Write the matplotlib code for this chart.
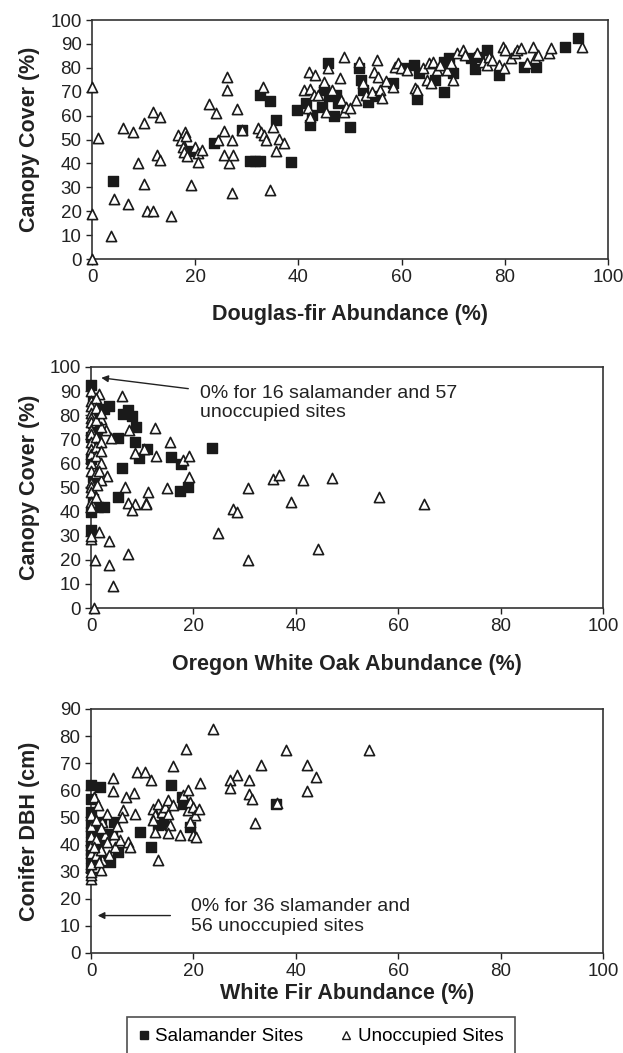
import numpy as np
import matplotlib.pyplot as plt
from matplotlib.lines import Line2D

plt.rcParams['font.family'] = ['Liberation Sans', 'DejaVu Sans']

# ---- panel 1: Douglas-fir abundance vs canopy cover ----
df_sal_x = [4.1, 18.9, 23.7, 29.1, 30.7, 31.6, 32.6, 32.6, 34.5, 35.6, 38.6, 39.8,
            41.5, 42.2, 42.6, 44.6, 45.0, 45.7, 45.9, 46.8, 47.2, 47.6, 49.9, 51.7,
            52.2, 52.6, 53.4, 55.2, 58.4, 60.7, 62.3, 62.9, 63.4, 66.5, 68.3, 68.3,
            69.1, 70.0, 73.4, 74.2, 75.0, 76.5, 78.8, 83.8, 86.0, 91.7, 94.2]
df_sal_y = [32.5, 45.0, 48.5, 54.0, 41.1, 41.1, 41.2, 68.7, 66.2, 58.0, 40.8, 62.4,
            65.2, 56.1, 60.3, 63.8, 70.8, 81.9, 68.0, 59.9, 68.7, 65.2, 55.4, 79.8,
            74.9, 70.8, 65.9, 68.0, 73.5, 79.8, 81.2, 66.9, 77.7, 74.9, 70.0, 82.6,
            84.0, 77.7, 84.0, 79.4, 84.4, 87.5, 77.0, 80.5, 80.5, 88.9, 92.3]
df_uno_x = [0.0, 0.0, 0.0, 1.2, 3.7, 4.2, 6.0, 7.0, 8.0, 9.0, 10.0, 10.0, 10.6, 11.9,
            11.9, 12.6, 13.1, 13.1, 15.4, 16.6, 17.2, 17.6, 17.8, 18.1, 18.3, 18.5,
            19.1, 19.9, 20.6, 20.6, 21.4, 22.6, 24.1, 24.4, 25.5, 25.5, 26.2, 26.2,
            26.6, 27.2, 27.2, 27.4, 28.0, 29.1, 32.2, 32.8, 33.2, 33.4, 33.7, 34.4,
            35.1, 35.6, 36.2, 37.2,
            42.1, 43.2, 41.1, 42.2, 43.0, 41.8, 42.2, 43.8, 45.0, 45.3, 45.7, 46.5,
            48.0, 48.2, 48.8, 48.8, 49.2, 49.9, 51.1, 51.7, 52.5, 53.0, 54.2, 54.6,
            55.2, 55.4, 55.8, 56.2, 56.9, 58.8, 58.4, 59.2, 59.9, 61.1, 62.6, 63.0,
            64.2, 64.9, 65.3, 65.7, 66.1, 66.9, 67.5, 68.8, 69.6, 70.0, 70.7, 71.9,
            72.3, 74.6, 75.7, 76.5, 76.9, 77.6, 78.8, 79.6, 80.0, 79.8, 81.1, 81.9,
            82.3, 83.1, 84.2, 85.4, 85.8, 86.5, 88.5, 88.9, 94.9]
df_uno_y = [72.0, 19.0, 0.0, 50.5, 9.5, 25.0, 55.0, 23.0, 53.0, 40.0, 31.5, 57.0, 20.2,
            20.2, 61.4, 43.5, 41.5, 59.6, 17.8, 52.0, 49.9, 47.0, 44.8, 53.3, 51.3,
            43.3, 31.0, 47.0, 44.3, 40.7, 45.7, 64.9, 61.0, 49.9, 53.6, 43.6, 76.0,
            70.8, 40.1, 27.6, 49.9, 43.6, 62.7, 54.0, 54.7, 53.3, 72.0, 52.0, 49.9,
            28.7, 55.2, 45.0, 50.1, 48.5,
            78.4, 77.0, 70.8, 71.0, 68.7, 63.0, 59.6, 68.7, 74.2, 61.7, 79.8, 70.8,
            75.6, 66.6, 61.7, 84.4, 63.8, 63.0, 66.6, 82.6, 73.8, 68.7, 70.0, 78.4,
            83.3, 76.0, 70.8, 67.3, 74.6, 80.5, 72.1, 81.9, 79.8, 79.1, 71.4, 70.8,
            79.8, 74.9, 81.9, 73.5, 82.6, 79.1, 81.2, 79.1, 81.9, 74.9, 86.1, 87.5,
            85.4, 86.1, 82.6, 81.2, 84.7, 83.3, 81.2, 88.9, 87.5, 79.8, 84.0, 86.1,
            87.5, 88.2, 81.9, 88.9, 84.0, 85.4, 86.1, 88.2, 88.9]

# ---- panel 2: Oregon white oak abundance vs canopy cover ----
ow_sal_x = [0.0, 0.3, 3.6, 2.6, 6.2, 7.2, 8.1, 8.7, 8.5, 0.3, 1.0, 5.2, 0.3, 9.4,
            11.0, 15.6, 17.6, 6.0, 5.2, 17.3, 18.9, 0.3, 1.3, 2.6, 0.0, 23.6, 0.3,
            0.0, 0.0, 0.0, 1.0]
ow_sal_y = [92.5, 86.0, 84.0, 82.6, 80.5, 82.0, 79.5, 75.3, 69.0, 76.7, 72.6, 70.5,
            67.0, 62.3, 66.0, 62.7, 59.6, 58.2, 45.9, 48.6, 50.0, 45.2, 41.8, 41.8,
            32.2, 66.4, 54.5, 62.0, 71.0, 40.0, 80.0]
ow_uno_x = [6.1, 1.5, 2.0, 3.0, 2.0, 3.9, 7.5, 12.5, 15.4, 8.5, 10.4, 12.7, 17.9,
            19.2, 3.1, 6.7, 11.2, 14.9, 19.1, 10.8, 7.2, 8.5, 8.1, 10.8, 24.8, 3.6,
            7.2, 3.6, 4.2, 0.7, 0.0, 1.6, 0.5, 30.7, 35.6, 36.8, 41.5, 47.0, 39.1,
            27.7, 28.5, 30.7, 44.3, 56.2, 65.1,
            0.0, 0.0, 0.0, 0.0, 0.0, 0.0, 0.0, 0.0, 0.0, 0.0, 0.0, 0.0, 0.0, 0.0,
            0.0, 0.0, 0.0, 0.0, 0.0, 1.0, 1.0, 1.0, 1.0, 1.0, 1.0, 1.0, 1.0, 2.0,
            2.0, 2.0, 2.0, 2.0, 1.5, 1.2]
ow_uno_y = [87.9, 88.8, 78.5, 73.7, 75.0, 70.5, 73.7, 74.6, 69.0, 64.4, 65.8, 63.0,
            61.6, 63.0, 54.8, 50.4, 48.3, 49.6, 54.5, 43.7, 43.7, 43.0, 40.8, 43.0,
            31.0, 27.7, 22.6, 17.8, 9.3, 20.0, 28.8, 31.5, 0.0, 49.6, 53.4, 55.1,
            53.0, 53.9, 43.8, 41.0, 40.0, 20.0, 24.5, 46.1, 43.1,
            90.0, 86.0, 84.0, 81.0, 79.0, 77.0, 74.0, 72.0, 69.0, 66.0, 64.0, 60.0,
            57.0, 52.0, 50.0, 48.0, 44.0, 42.0, 30.0, 87.0, 83.0, 78.0, 71.0, 67.0,
            63.0, 56.0, 46.0, 81.0, 69.0, 65.0, 60.0, 53.0, 57.0, 51.0]

# ---- panel 3: white fir abundance vs conifer DBH ----
wf_sal_x = [0.0, 1.8, 0.0, 0.0, 0.0, 0.0, 0.0, 0.0, 0.0, 0.0, 1.9, 4.4, 4.1, 3.7,
            5.3, 1.4, 9.5, 11.8, 15.6, 17.7, 18.0, 19.3, 13.1, 14.1, 1.1, 2.3, 3.4,
            13.4, 36.1, 0.8, 1.5]
wf_sal_y = [61.8, 61.2, 56.9, 52.0, 48.0, 44.5, 41.0, 38.0, 35.0, 31.5, 48.3, 48.3,
            44.0, 33.7, 37.3, 39.8, 44.6, 39.2, 61.8, 57.5, 55.1, 46.5, 47.2, 48.5,
            35.5, 44.0, 34.1, 47.6, 55.0, 45.0, 42.0]
wf_uno_x = [23.8, 18.5, 38.1, 54.2, 16.0, 33.2, 42.1, 44.0, 28.5, 27.2, 30.9, 27.2,
            30.9, 31.4, 42.1, 36.4, 32.1, 8.9, 10.6, 11.7, 21.3, 4.2, 4.2, 6.9, 8.3,
            13.1, 0.0, 0.5, 1.4, 2.1, 3.1, 6.3, 6.0, 8.6, 2.7, 3.1, 4.7, 5.6, 7.3,
            7.6, 2.1, 1.1, 1.9, 0.0, 12.1, 13.1, 12.5, 12.1, 12.5, 13.8, 14.4, 15.1,
            15.1, 15.4, 15.1, 16.0, 17.3, 19.0, 19.3, 19.9, 20.3, 21.0, 19.9, 20.6,
            19.3, 18.0, 19.0, 0.0, 0.0, 0.0, 0.0, 0.0, 0.0, 0.0, 1.0, 1.0, 1.0, 2.0,
            2.0, 3.5, 4.5, 5.0, 1.5, 0.5]
wf_uno_y = [82.5, 75.2, 74.8, 74.8, 69.1, 69.3, 69.3, 64.8, 65.5, 63.9, 63.9, 60.8,
            58.6, 56.9, 59.9, 55.3, 47.8, 66.9, 66.9, 63.7, 62.7, 64.5, 59.9, 57.4,
            59.0, 34.4, 27.4, 57.5, 54.5, 48.3, 51.4, 52.6, 50.2, 51.4, 43.5, 41.0,
            39.2, 41.6, 41.0, 39.2, 34.3, 31.8, 30.6, 28.8, 53.2, 55.1, 50.8, 49.0,
            44.7, 52.0, 53.9, 56.3, 51.4, 47.1, 44.1, 54.5, 43.5, 52.6, 55.7, 53.9,
            50.8, 53.2, 43.5, 42.8, 48.3, 58.1, 60.0, 30.0, 33.0, 37.0, 40.0, 43.0,
            47.0, 51.0, 36.0, 42.0, 49.0, 38.0, 46.0, 36.0, 44.0, 47.0, 33.5, 39.0]

panels = [
    dict(rect=[0.1477, 0.7540, 0.8283, 0.2270], sal=(df_sal_x, df_sal_y),
         uno=(df_uno_x, df_uno_y), ymax=100, xlabel='Douglas-fir Abundance (%)',
         ylabel='Canopy Cover (%)', xlab_y=-0.19),
    dict(rect=[0.1461, 0.4226, 0.8218, 0.2289], sal=(ow_sal_x, ow_sal_y),
         uno=(ow_uno_x, ow_uno_y), ymax=100, xlabel='Oregon White Oak Abundance (%)',
         ylabel='Canopy Cover (%)', xlab_y=-0.19),
    dict(rect=[0.1461, 0.0950, 0.8218, 0.2317], sal=(wf_sal_x, wf_sal_y),
         uno=(wf_uno_x, wf_uno_y), ymax=90, xlabel='White Fir Abundance (%)',
         ylabel='Conifer DBH (cm)', xlab_y=-0.125),
]

fig = plt.figure(figsize=(6.23, 10.53), dpi=100)
axes = []
for p in panels:
    ax = fig.add_axes(p['rect'])
    ax.scatter(*p['sal'], marker='s', s=48, color='#1a1a1a', clip_on=False, zorder=3)
    ax.scatter(*p['uno'], marker='^', s=54, facecolor='white', edgecolor='#1a1a1a',
               linewidth=1.2, clip_on=False, zorder=4)
    ax.set_xlim(0, 100)
    ax.set_ylim(0, p['ymax'])
    ax.set_xticks(np.arange(0, 101, 20))
    ax.set_yticks(np.arange(0, p['ymax'] + 1, 10))
    ax.tick_params(direction='out', length=4, width=1, labelsize=13.5, colors='#222222')
    for sp in ax.spines.values():
        sp.set_linewidth(1.2)
        sp.set_color('#333333')
    ax.set_xlabel(p['xlabel'], fontsize=15.5, fontweight='bold', color='#222222')
    ax.set_ylabel(p['ylabel'], fontsize=15.5, fontweight='bold', color='#222222')
    ax.yaxis.set_label_coords(-0.10, 0.5)
    ax.xaxis.set_label_coords(0.5, p['xlab_y'])
    axes.append(ax)

arrow = dict(arrowstyle='-|>', color='#222222', lw=1, shrinkA=0, shrinkB=0,
             mutation_scale=10)

axes[1].annotate('', xy=(2, 95.5), xytext=(19, 91), arrowprops=arrow)
axes[1].text(21.3, 85, '0% for 16 salamander and 57\nunoccupied sites', fontsize=14,
             va='center', ha='left', color='#222222', linespacing=1.2)

axes[2].annotate('', xy=(1.3, 13.8), xytext=(15.5, 13.8), arrowprops=arrow)
axes[2].text(19.6, 13.5, '0% for 36 slamander and\n56 unoccupied sites', fontsize=14,
             va='center', ha='left', color='#222222', linespacing=1.2)

handles = [Line2D([], [], marker='s', ls='none', ms=6, color='#1a1a1a'),
           Line2D([], [], marker='^', ls='none', ms=6, mfc='white', mec='#1a1a1a', mew=1)]
leg = fig.legend(handles, ['Salamander Sites', 'Unoccupied Sites'], ncol=2,
                 loc='upper center', bbox_to_anchor=(0.515, 0.0342), fontsize=13.5,
                 frameon=True, fancybox=False, edgecolor='#222222',
                 handlelength=0.6, handletextpad=0.3, columnspacing=2.0,
                 borderpad=0.6, borderaxespad=0)
leg.get_frame().set_linewidth(1.2)

fig.savefig('out.png', dpi=100)
